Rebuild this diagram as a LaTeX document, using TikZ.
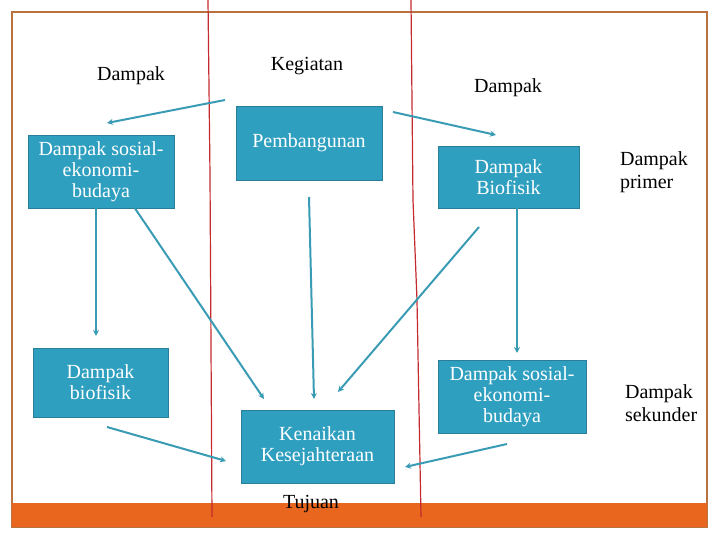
\documentclass[tikz,border=0pt]{standalone}
\usepackage{fontspec}
\setmainfont{Liberation Serif}
\usetikzlibrary{calc,arrows.meta}

\definecolor{boxteal}{HTML}{2F9FC0}
\definecolor{boxedge}{HTML}{2A7E99}
\definecolor{arrteal}{HTML}{3A9BB4}
\definecolor{barorange}{HTML}{E8661E}
\definecolor{framebrown}{HTML}{B8713F}
\definecolor{linered}{HTML}{C42A30}

\begin{document}
\begin{tikzpicture}[x=.5pt, y=-.5pt,
  box/.style={draw=boxedge, fill=boxteal, text=white, align=center, inner sep=0pt,
    font=\fontsize{10}{10.5}\selectfont},
  lbl/.style={align=left, font=\fontsize{10}{11.5}\selectfont},
  arr/.style={draw=arrteal, line width=1pt, -{Stealth[length=3pt, width=3pt]}}]
\useasboundingbox (0,0) rectangle (720,540);

% frame and bottom bar
\draw[framebrown, line width=.6pt] (12,12) rectangle (707,527);
\fill[barorange] (12,503) rectangle (707,527);

% red lines
\draw[linered, line width=.6pt] (208,0) -- (210,175) -- (212,517);
\draw[linered, line width=.6pt] (411,0) -- (413,200) -- (417,300) -- (421,517);

% boxes
\node[box, minimum width=73pt, minimum height=36.5pt] (sosL) at (101,171.5) {Dampak sosial-\\ekonomi-\\budaya};
\node[box, minimum width=73pt, minimum height=37pt] (pemb) at (309,143) {Pembangunan};
\node[box, minimum width=70.5pt, minimum height=31pt] (bioR) at (508.5,177) {Dampak\\Biofisik};
\node[box, minimum width=67.5pt, minimum height=34.5pt] (bioL) at (100.5,382.5) {Dampak\\biofisik};
\node[box, minimum width=76.5pt, minimum height=36.5pt] (ken) at (317.5,446.5) {Kenaikan\\Kesejahteraan};
\node[box, minimum width=74pt, minimum height=36.5pt] (sosR) at (512,396.5) {Dampak sosial-\\ekonomi-\\budaya};

% labels
\node[lbl] (dL) at (131,76) {Dampak};
\node[lbl] (keg) at (307,66) {Kegiatan};
\node[lbl] (dR) at (508,88) {Dampak};
\node[lbl, anchor=west] (prim) at (613,172) {Dampak\\primer};
\node[lbl, anchor=west] (sek) at (618,403) {Dampak\\sekunder};
\node[lbl] (tuj) at (311,504) {Tujuan};

% free ends
\coordinate (a1) at (225,100);  \coordinate (b1) at (107,123);
\coordinate (a2) at (393,112);  \coordinate (b2) at (496,135);
\coordinate (b3) at (96,336);
\coordinate (b4) at (264,399);
\coordinate (a5) at (309,197);  \coordinate (b5) at (314,399);
\coordinate (a6) at (479,227);  \coordinate (b6) at (338,392);
\coordinate (b7) at (517,353);
\coordinate (a8) at (107,427);  \coordinate (b8) at (226,461);
\coordinate (a9) at (507,444);  \coordinate (b9) at (405,467);

% arrows
\draw[arr] (a1) -- (b1);
\draw[arr] (a2) -- (b2);
\draw[arr] ($(sosL.south)+(-5,0)$) -- (b3);
\draw[arr] ($(sosL.south)+(34,0)$) -- (b4);
\draw[arr] (a5) -- (b5);
\draw[arr] (a6) -- (b6);
\draw[arr] ($(bioR.south)+(8.5,0)$) -- (b7);
\draw[arr] (a8) -- (b8);
\draw[arr] (a9) -- (b9);
\end{tikzpicture}
\end{document}
